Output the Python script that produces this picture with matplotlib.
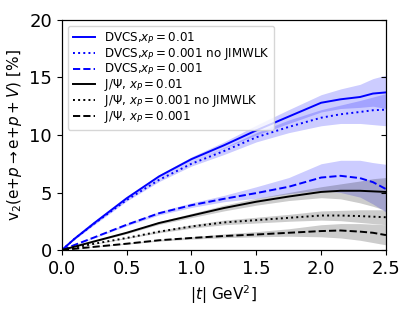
import numpy as np
import matplotlib.pyplot as plt

# |t| grid (GeV^2)
t = [0, 0.1, 0.25, 0.5, 0.75, 1.0, 1.25, 1.5, 1.75, 2.0, 2.15, 2.3, 2.4, 2.5]

# DVCS, x_P = 0.01
dvcs_01 = [0, 1.0, 2.35, 4.5, 6.4, 7.9, 9.1, 10.4, 11.6, 12.8, 13.1, 13.3, 13.6, 13.7]
dvcs_01_lo = [0, 0.95, 2.25, 4.4, 6.25, 7.7, 8.85, 10.0, 11.0, 12.0, 12.3, 12.4, 12.5, 12.3]
dvcs_01_hi = [0, 1.05, 2.45, 4.6, 6.55, 8.1, 9.4, 10.85, 12.2, 13.5, 14.0, 14.4, 14.9, 15.2]

# DVCS, x_P = 0.001 no JIMWLK
dvcs_001n = [0, 1.0, 2.3, 4.35, 6.1, 7.5, 8.6, 9.8, 10.7, 11.5, 11.8, 12.0, 12.15, 12.2]
dvcs_001n_lo = [0, 0.95, 2.2, 4.25, 5.95, 7.3, 8.3, 9.4, 10.2, 10.8, 11.0, 11.0, 10.9, 10.8]
dvcs_001n_hi = [0, 1.05, 2.4, 4.45, 6.25, 7.7, 8.9, 10.2, 11.3, 12.2, 12.6, 13.0, 13.3, 13.6]

# DVCS, x_P = 0.001
dvcs_001 = [0, 0.45, 1.1, 2.2, 3.2, 3.9, 4.45, 4.95, 5.5, 6.3, 6.45, 6.25, 5.9, 5.3]
dvcs_001_lo = [0, 0.42, 1.05, 2.1, 3.05, 3.7, 4.2, 4.5, 4.9, 5.2, 5.0, 4.6, 4.0, 3.3]
dvcs_001_hi = [0, 0.48, 1.15, 2.3, 3.35, 4.1, 4.75, 5.5, 6.3, 7.5, 7.8, 7.8, 7.6, 7.45]

# J/Psi, x_P = 0.01
jpsi_01 = [0, 0.3, 0.75, 1.5, 2.35, 3.0, 3.65, 4.2, 4.65, 5.05, 5.15, 5.15, 5.1, 5.05]
jpsi_01_lo = [0, 0.28, 0.7, 1.42, 2.23, 2.82, 3.4, 3.9, 4.3, 4.55, 4.45, 4.1, 3.8, 3.45]
jpsi_01_hi = [0, 0.32, 0.8, 1.58, 2.47, 3.18, 3.9, 4.5, 5.0, 5.5, 5.75, 6.0, 6.2, 6.3]

# J/Psi, x_P = 0.001 no JIMWLK
jpsi_001n = [0, 0.22, 0.55, 1.05, 1.6, 2.05, 2.4, 2.6, 2.8, 3.0, 3.0, 2.95, 2.9, 2.85]
jpsi_001n_lo = [0, 0.2, 0.52, 1.0, 1.5, 1.9, 2.2, 2.35, 2.5, 2.6, 2.55, 2.4, 2.3, 2.2]
jpsi_001n_hi = [0, 0.24, 0.58, 1.1, 1.7, 2.2, 2.6, 2.85, 3.1, 3.4, 3.45, 3.5, 3.5, 3.5]

# J/Psi, x_P = 0.001
jpsi_001 = [0, 0.11, 0.28, 0.55, 0.85, 1.05, 1.22, 1.35, 1.5, 1.65, 1.7, 1.6, 1.5, 1.3]
jpsi_001_lo = [0, 0.1, 0.26, 0.51, 0.78, 0.95, 1.07, 1.15, 1.2, 1.15, 1.05, 0.85, 0.65, 0.45]
jpsi_001_hi = [0, 0.12, 0.3, 0.59, 0.92, 1.15, 1.4, 1.6, 1.85, 2.2, 2.3, 2.3, 2.25, 2.2]

fig = plt.figure(figsize=(4.15, 3.11), dpi=100)
ax = fig.add_axes([0.149, 0.196, 0.781, 0.740])

series = [
    (dvcs_01, dvcs_01_lo, dvcs_01_hi, 'blue', '-', r'DVCS,$x_P=0.01$'),
    (dvcs_001n, dvcs_001n_lo, dvcs_001n_hi, 'blue', ':', r'DVCS,$x_P=0.001$ no JIMWLK'),
    (dvcs_001, dvcs_001_lo, dvcs_001_hi, 'blue', '--', r'DVCS,$x_P=0.001$'),
    (jpsi_01, jpsi_01_lo, jpsi_01_hi, 'black', '-', r'J/$\Psi$, $x_P=0.01$'),
    (jpsi_001n, jpsi_001n_lo, jpsi_001n_hi, 'black', ':', r'J/$\Psi$, $x_P=0.001$ no JIMWLK'),
    (jpsi_001, jpsi_001_lo, jpsi_001_hi, 'black', '--', r'J/$\Psi$, $x_P=0.001$'),
]

for y, lo, hi, c, ls, lab in series:
    ax.plot(t, y, color=c, ls=ls, lw=1.4, label=lab)
    ax.fill_between(t, lo, hi, color=c, alpha=0.2, lw=0)

ax.set_xlim(0, 2.5)
ax.set_ylim(0, 20)
ax.set_xticks([0.0, 0.5, 1.0, 1.5, 2.0, 2.5])
ax.set_yticks([0, 5, 10, 15, 20])
ax.tick_params(labelsize=13)
ax.set_xlabel(r'$|t|$ GeV$^2$]', fontsize=11)
ax.set_ylabel(r'v$_2$(e$+p\rightarrow$e$+p+V$) [%]', fontsize=11)

ax2 = ax.twinx()
ax2.set_ylim(0, 20)
ax2.set_yticks([0, 5, 10, 15, 20])
ax2.tick_params(direction='in', labelright=False)

ax.legend(loc='upper left', fontsize=8.6, handlelength=1.9, labelspacing=0,
          borderpad=0.4, handletextpad=0.7)

fig.savefig('out.png', dpi=100)
